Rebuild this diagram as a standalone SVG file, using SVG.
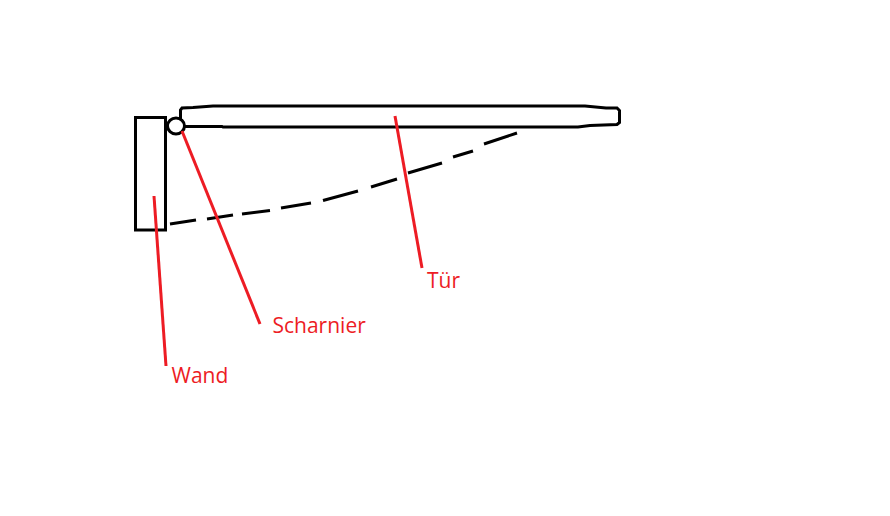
<svg xmlns="http://www.w3.org/2000/svg" width="890" height="516" viewBox="0 0 890 516">
<style>
.k{fill:none;stroke:#000;stroke-width:3}
.d{fill:none;stroke:#000;stroke-width:3}
.r{fill:none;stroke:#ed1c24;stroke-width:3}
.t{font-family:"Open Sans","Noto Sans",sans-serif;font-size:21px;fill:#ed1c24}
</style>
<rect width="890" height="516" fill="#fff"/>
<g id="wand"><rect class="k" x="135.500" y="117.500" width="30" height="112.500"/></g>
<g id="tuer"><path class="k" d="M184 126.500L222 126.500L223 127L578 127L590 125.500L617 124.500L619.500 122.500L619.500 110.500L617 108L606 108L585 106L213 106L193 107.500L182 108L180.500 110L180.500 119"/></g>
<g id="scharnier"><ellipse class="k" cx="176" cy="126" rx="8.500" ry="8"/></g>
<g id="connectors">
<path class="d" d="M170 224L196 220M207 219L233 215M242 214L270 210.500M281 208L311 203M323 200.500L358 191M371 187L397 179M408 173L442 163M453 157L473 151M484 144L517 133"/>
<path class="r" d="M182 131L260 324"/>
<path class="r" d="M154 196L166 366"/>
<path class="r" d="M395 116L422 268"/>
</g>
<text class="t" x="272.500" y="333">Scharnier</text>
<text class="t" x="171.500" y="383">Wand</text>
<text class="t" x="427" y="288">Tür</text>
</svg>
